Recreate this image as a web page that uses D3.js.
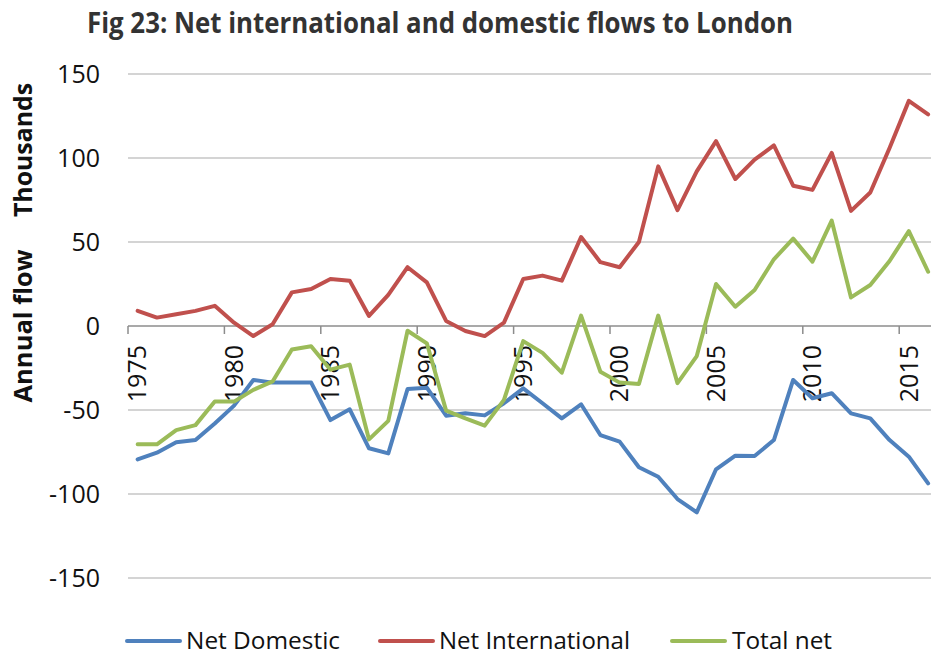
<!DOCTYPE html>
<html>
<head>
<meta charset="utf-8">
<script src="https://cdn.jsdelivr.net/npm/d3@7"></script>
<style>
  html, body { margin: 0; padding: 0; background: #fff; }
  svg { display: block; }
</style>
</head>
<body>
<script>
const years = d3.range(1975, 2017);
const netDomestic = [-79.4,-75.4,-69.2,-67.9,-58,-47.4,-32.1,-33.7,-33.7,-33.7,
  -56,-49.6,-72.8,-75.8,-37.5,-36.7,-53.4,-52,-53.2,-46,
  -37.1,-46,-55,-46.6,-64.9,-68.8,-84.1,-89.7,-103,-110.9,
  -85.3,-77.2,-77.4,-67.9,-32.1,-43,-40,-52,-55,-67.9,
  -77.8,-93.7];
const netInternational = [9,5,7,9,12,2,-6,1,20,22,
  28,27,6,18.5,35,26,3,-3,-6,2,
  28,30,27,53,38,35,50,95,69,92,
  110,87.5,99,107.5,83.5,81,103,68.5,79.5,106,
  134,126];
const totalNet = [-70.4,-70.4,-62,-59,-45,-45,-38,-33,-14,-12,
  -26,-23,-67.5,-56.5,-2.8,-10.3,-50.4,-55,-59.3,-44,
  -9,-16,-27.8,6.2,-27.2,-33.7,-34.5,6.2,-34,-17.9,
  25,11.5,21.4,39.7,52,38.3,62.7,17,24.4,38.7,
  56.5,32.3];
const yTicks = [150, 100, 50, 0, -50, -100, -150];
const xLabelYears = [1975, 1980, 1985, 1990, 1995, 2000, 2005, 2010, 2015];
const seriesNames = ["Net Domestic", "Net International", "Total net"];
const seriesColors = ["#4F81BD", "#C0504D", "#9BBB59"];
const seriesValues = [netDomestic, netInternational, totalNet];

const W = 931, H = 656;
const svg = d3.select("body").append("svg").attr("width", W).attr("height", H);
const FONT = "'Open Sans', 'Noto Sans', sans-serif";

const x = d3.scaleBand().domain(years).range([128, 128 + 42 * 19.28]).padding(0);
const y = d3.scaleLinear().domain([-150, 150]).range([578, 74]);
const cx = d => x(d) + x.bandwidth() / 2;

// Title
svg.append("text")
  .attr("x", 87).attr("y", 33)
  .attr("font-family", FONT).attr("font-weight", 700).attr("font-size", 28)
  .attr("fill", "#333333")
  .attr("textLength", 706).attr("lengthAdjust", "spacingAndGlyphs")
  .text("Fig 23: Net international and domestic flows to London");

// Gridlines
svg.append("g").selectAll("line")
  .data(yTicks.filter(t => t !== 0))
  .join("line")
  .attr("x1", 128).attr("x2", W)
  .attr("y1", d => y(d)).attr("y2", d => y(d))
  .attr("stroke", "#C6C6C6").attr("stroke-width", 1.5);

// Y tick labels
svg.append("g").selectAll("text")
  .data(yTicks)
  .join("text")
  .attr("x", 100).attr("y", d => y(d)).attr("dy", "0.35em")
  .attr("text-anchor", "end")
  .attr("font-family", FONT).attr("font-size", 25).attr("fill", "#111")
  .text(d => d);

// Y axis title
svg.append("text")
  .attr("transform", `translate(32,150) rotate(-90)`)
  .attr("text-anchor", "middle")
  .attr("font-family", FONT).attr("font-weight", 700).attr("font-size", 25)
  .attr("fill", "#111")
  .attr("textLength", 134).attr("lengthAdjust", "spacingAndGlyphs")
  .text("Thousands");
svg.append("text")
  .attr("transform", `translate(32,326) rotate(-90)`)
  .attr("text-anchor", "middle")
  .attr("font-family", FONT).attr("font-weight", 700).attr("font-size", 25)
  .attr("fill", "#111")
  .attr("textLength", 153).attr("lengthAdjust", "spacingAndGlyphs")
  .text("Annual flow");

// X axis (zero line) with ticks at category boundaries
svg.append("line")
  .attr("x1", 128).attr("x2", W)
  .attr("y1", y(0)).attr("y2", y(0))
  .attr("stroke", "#8C8C8C").attr("stroke-width", 1.5);
svg.append("g").selectAll("line")
  .data(xLabelYears)
  .join("line")
  .attr("x1", d => x(d)).attr("x2", d => x(d))
  .attr("y1", y(0)).attr("y2", y(0) + 8)
  .attr("stroke", "#8C8C8C").attr("stroke-width", 1.5);

// X labels (rotated)
svg.append("g").selectAll("text")
  .data(xLabelYears)
  .join("text")
  .attr("transform", d => `translate(${cx(d)},345) rotate(-90)`)
  .attr("dy", "0.35em")
  .attr("text-anchor", "end")
  .attr("font-family", FONT).attr("font-size", 25).attr("fill", "#111")
  .text(d => d);

// Lines
const line = d3.line().x((d, i) => cx(years[i])).y(d => y(d));
seriesValues.forEach((vals, k) => {
  svg.append("path")
    .datum(vals)
    .attr("d", line)
    .attr("fill", "none")
    .attr("stroke", seriesColors[k])
    .attr("stroke-width", 4)
    .attr("stroke-linejoin", "round")
    .attr("stroke-linecap", "round");
});

// Legend
const legendY = 641;
const legendPos = [
  {lx1: 127, lx2: 180, tx: 186, tl: 154},
  {lx1: 380, lx2: 433, tx: 439, tl: 191},
  {lx1: 672, lx2: 725, tx: 732, tl: 100}
];
seriesNames.forEach((name, k) => {
  const p = legendPos[k];
  svg.append("line")
    .attr("x1", p.lx1).attr("x2", p.lx2)
    .attr("y1", legendY).attr("y2", legendY)
    .attr("stroke", seriesColors[k]).attr("stroke-width", 4)
    .attr("stroke-linecap", "round");
  svg.append("text")
    .attr("x", p.tx).attr("y", legendY).attr("dy", "0.35em")
    .attr("font-family", FONT).attr("font-size", 24).attr("fill", "#111")
    .attr("textLength", p.tl).attr("lengthAdjust", "spacingAndGlyphs")
    .text(name);
});
</script>
</body>
</html>
